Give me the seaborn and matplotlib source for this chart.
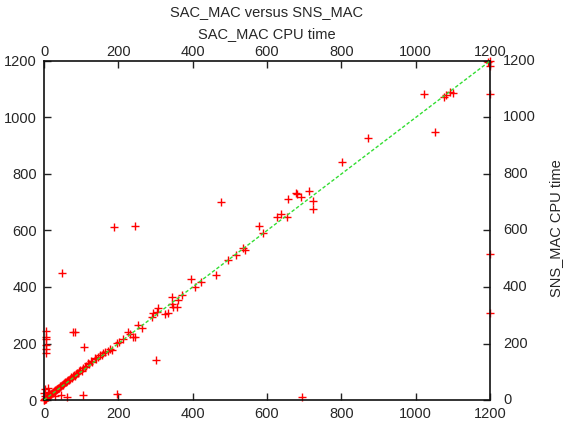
import matplotlib
matplotlib.use("Agg")
import matplotlib.pyplot as plt
import seaborn as sns
import pandas as pd

# SAC_MAC CPU time (x) vs SNS_MAC CPU time (y)
sac_mac = [
    0, 1, 2, 3, 4, 5, 6, 8, 9, 10, 12, 13, 15, 16, 18, 20, 22, 24, 25, 27,
    29, 30, 32, 34, 36, 38, 40, 42, 44, 46, 48, 50, 52, 55, 57, 60, 62, 64, 67, 70,
    72, 75, 78, 80, 83, 86, 88, 92, 95, 98, 102, 105, 110, 114, 118, 122, 126, 130, 137, 140,
    146, 150, 155, 160, 165, 172, 178,
    2, 4, 11, 13, 0,
    29, 45, 62, 104, 196, 693,
    5, 5, 5, 5, 6, 5,
    48, 78, 84, 108, 188, 245, 301,
    183, 196, 202, 213, 226, 231, 240, 245, 253, 264, 291, 293, 304, 307, 326, 334, 344, 344,
    347, 358, 360, 371,
    395, 406, 422, 463, 476, 495, 516, 536, 541, 578, 589, 627, 638, 654, 656, 678, 681, 691,
    713, 724, 724, 802, 872, 1022, 1052, 1076, 1082, 1092, 1100, 1195,
    1200, 1200, 1200, 1200, 1200,
]
sns_mac = [
    0, 1, 3, 2, 5, 4, 8, 9, 12, 10, 14, 18, 16, 20, 22, 21, 26, 28, 24, 31,
    34, 30, 37, 38, 40, 44, 42, 47, 50, 48, 54, 56, 53, 60, 63, 62, 68, 72, 70, 76,
    80, 78, 85, 88, 86, 93, 97, 95, 102, 106, 104, 112, 118, 121, 131, 128, 138, 136, 148, 145,
    152, 158, 160, 168, 170, 173, 180,
    15, 38, 42, 28, 25,
    14, 18, 11, 16, 20, 10,
    244, 223, 216, 195, 180, 166,
    449, 240, 239, 188, 612, 616, 140,
    177, 202, 205, 216, 241, 234, 223, 223, 265, 255, 294, 308, 311, 326, 304, 308, 365, 340,
    329, 329, 354, 372,
    430, 400, 418, 442, 701, 495, 513, 537, 531, 616, 591, 648, 658, 648, 711, 732, 729, 719,
    740, 704, 676, 842, 927, 1083, 949, 1073, 1080, 1090, 1087, 1197,
    1200, 1183, 1083, 517, 308,
]
diag = [0, 1200]
ticks = [0, 200, 400, 600, 800, 1000, 1200]

df = pd.DataFrame({"sac": sac_mac, "sns": sns_mac})

sns.set_style("white")
plt.rcParams["font.family"] = ["Liberation Sans", "DejaVu Sans"]
plt.rcParams["font.size"] = 10.5

fig = plt.figure(figsize=(5.63, 4.21), dpi=100)
ax = fig.add_axes([44 / 563, 21 / 421, 446 / 563, 339 / 421])

sns.scatterplot(data=df, x="sac", y="sns", marker="+", color="#ff0000",
                s=26, linewidth=1.0, ax=ax, clip_on=False, zorder=2)
sns.lineplot(x=diag, y=diag, color="#33dd33", linestyle=(0, (2.5, 1.5)),
             linewidth=1.0, ax=ax, zorder=3)

ax.set_xlim(0, 1200)
ax.set_ylim(0, 1200)
ax.set_xticks(ticks)
ax.set_yticks(ticks)
ax.set_xlabel("")
ax.set_ylabel("")
ax.tick_params(axis="x", direction="in", length=5, width=1, color="#222222",
               top=True, labeltop=False, bottom=True, labelbottom=True,
               pad=5, labelsize=10.5)
ax.tick_params(axis="y", direction="in", length=5, width=1, color="#222222",
               left=True, right=True, labelleft=True, labelright=False,
               pad=5, labelsize=10.5)
for sp in ax.spines.values():
    sp.set_visible(True)
    sp.set_color("#111111")
    sp.set_linewidth(1.2)

# top and right tick labels placed by hand, gnuplot style
for t in ticks:
    ax.annotate(str(t), xy=(t, 1), xycoords=("data", "axes fraction"),
                xytext=(0, 9), textcoords="offset pixels",
                ha="center", va="center", fontsize=10.5)
    ax.annotate(str(t), xy=(1, t), xycoords=("axes fraction", "data"),
                xytext=(13, 0), textcoords="offset pixels",
                ha="left", va="center", fontsize=10.5)

fig.text(267 / 563, 1 - 12 / 421, "SAC_MAC versus SNS_MAC", ha="center", va="center", fontsize=10.5)
fig.text(267 / 563, 1 - 34 / 421, "SAC_MAC CPU time", ha="center", va="center", fontsize=10.5)
fig.text(556 / 563, 1 - 228 / 421, "SNS_MAC CPU time", ha="center", va="center",
         rotation=90, fontsize=10.5)

fig.savefig("out.png", dpi=100)
plt.close(fig)
